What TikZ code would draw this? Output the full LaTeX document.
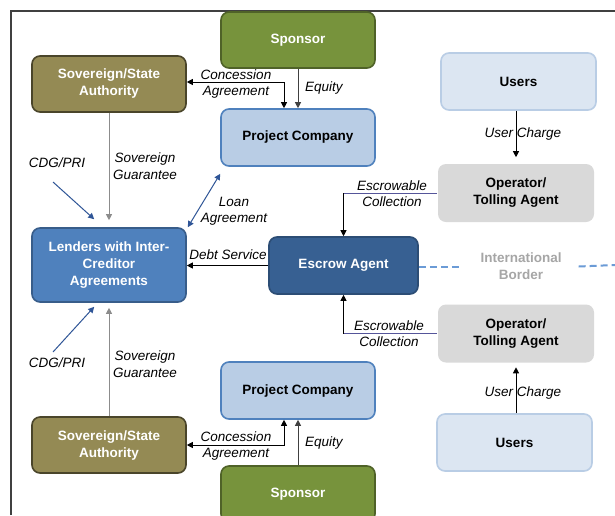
\documentclass[tikz,border=0pt]{standalone}
\usepackage{fontspec}
\setmainfont{Liberation Sans}
\usetikzlibrary{arrows.meta,calc}
\definecolor{sponsorfill}{HTML}{77933C}
\definecolor{sponsordraw}{HTML}{4F6228}
\definecolor{sovfill}{HTML}{948A54}
\definecolor{sovdraw}{HTML}{4A452A}
\definecolor{projfill}{HTML}{B9CDE5}
\definecolor{projdraw}{HTML}{4F81BD}
\definecolor{usersfill}{HTML}{DCE6F2}
\definecolor{usersdraw}{HTML}{B9CDE5}
\definecolor{opfill}{HTML}{D9D9D9}
\definecolor{lendfill}{HTML}{4F81BD}
\definecolor{lenddraw}{HTML}{385D8A}
\definecolor{escfill}{HTML}{376092}
\definecolor{escdraw}{HTML}{2C4D75}
\definecolor{bluearrow}{HTML}{2F5597}
\definecolor{grayarrow}{HTML}{8C8C8C}
\definecolor{bordertext}{HTML}{A6A6A6}
\definecolor{borderline}{HTML}{6B9BD6}
\definecolor{purpleline}{HTML}{55559A}
\definecolor{framecol}{HTML}{404040}
\tikzset{
  box/.style={rounded corners=8pt, minimum width=154pt, minimum height=56pt,
    align=center, font=\fontsize{13.5}{17}\selectfont\bfseries, line width=1.6pt, inner sep=2pt},
  sponsorbox/.style={box, fill=sponsorfill, draw=sponsordraw, text=white},
  sovbox/.style={box, fill=sovfill, draw=sovdraw, text=white},
  projbox/.style={box, fill=projfill, draw=projdraw, text=black, minimum height=57pt},
  usersbox/.style={box, fill=usersfill, draw=usersdraw, text=black, minimum width=155pt, minimum height=57pt},
  opbox/.style={box, fill=opfill, draw=none, text=black, minimum width=156pt, minimum height=58pt},
  lendbox/.style={box, fill=lendfill, draw=lenddraw, text=white, minimum height=74pt},
  escbox/.style={box, fill=escfill, draw=escdraw, text=white, minimum width=149pt, minimum height=57pt},
  lbl/.style={font=\fontsize{13.5}{16.5}\selectfont\itshape, align=center, inner sep=0pt},
  arr/.style={-{Triangle[width=6pt,length=6pt]}, line width=1pt, black},
  darr/.style={{Triangle[width=6pt,length=6pt]}-{Triangle[width=6pt,length=6pt]}, line width=1pt, black},
}
\begin{document}
\begin{tikzpicture}[x=1pt,y=-1pt]
\useasboundingbox (0,0) rectangle (615,515);
\clip (0,0) rectangle (615,515);
\fill[white] (0,0) rectangle (615,515);
\draw[framecol, line width=1.5pt] (11,515) -- (11,11) -- (615,11);

% nodes
\node[sponsorbox] (sponsorT) at (298,40) {Sponsor};
\node[sovbox] (sovT) at (109,84) {Sovereign/State\\Authority};
\node[projbox] (projT) at (298,137.5) {Project Company};
\node[usersbox] (usersT) at (518.5,81.5) {Users};
\node[opbox] (opT) at (516,193) {Operator/\\Tolling Agent};
\node[lendbox] (lenders) at (109,265) {Lenders with Inter-\\Creditor\\Agreements};
\node[escbox] (escrow) at (343.5,265.5) {Escrow Agent};
\node[opbox] (opB) at (516,333.5) {Operator/\\Tolling Agent};
\node[projbox] (projB) at (298,390.5) {Project Company};
\node[usersbox] (usersB) at (514.5,442.5) {Users};
\node[sovbox] (sovB) at (109,445) {Sovereign/State\\Authority};
\node[sponsorbox] (sponsorB) at (298,494) {Sponsor};

% labels
\node[lbl] (concT) at (236,84) {Concession\\Agreement};
\node[lbl, anchor=west] (eqT) at (305,88) {Equity};
\node[lbl, anchor=west] (sgT) at (113,166) {Sovereign\\Guarantee};
\node[lbl] (cdgT) at (57,163) {CDG/PRI};
\node[lbl] (loan) at (234,211) {Loan\\Agreement};
\node[lbl] (debt) at (228,255) {Debt Service};
\node[lbl] (escT) at (392,193.5) {Escrowable\\Collection};
\node[lbl] (ucT) at (523,134) {User Charge};
\node[lbl] (escB) at (389,333.5) {Escrowable\\Collection};
\node[lbl] (ucB) at (523,393) {User Charge};
\node[lbl, anchor=west] (sgB) at (113,364) {Sovereign\\Guarantee};
\node[lbl] (cdgB) at (57,363) {CDG/PRI};
\node[lbl] (concB) at (236,446) {Concession\\Agreement};
\node[lbl, anchor=west] (eqB) at (305,443) {Equity};
\node[font=\fontsize{13.5}{17}\selectfont\bfseries, text=bordertext, align=center, inner sep=0pt] (border) at (521,266.5) {International\\Border};
\coordinate (borderEnd) at (615,265);

% connectors top half
\draw[arr, draw=black!75, -{Triangle[width=6pt,length=6pt]}] (sponsorT) -- (projT);
\draw[darr] ([yshift=2pt]sovT.east) -| ([xshift=-14pt]projT.north);
\draw[arr, draw=grayarrow, -{Triangle[width=6pt,length=6pt,fill=grayarrow]}, shorten >=7pt] (sovT) -- (lenders);
\coordinate (cdgTs) at (53,182);
\draw[arr, draw=bluearrow, -{Triangle[width=6pt,length=6pt,fill=bluearrow]}] (cdgTs) -- ([shift={(63,-8)}]lenders.north west);
\draw[darr, draw=bluearrow, {Triangle[width=6pt,length=6pt,fill=bluearrow]}-{Triangle[width=6pt,length=6pt,fill=bluearrow]}] ([xshift=1pt]lenders.north east) -- ([yshift=-7pt]projT.south west);
\draw[arr] (escrow.west) -- (lenders.east |- escrow.west);
\draw[arr] (usersT.south -| opT.north) -- ([yshift=6pt]opT.north);
\draw[purpleline, line width=1pt] (opT.west) -- (opT.west -| escrow.north);
\draw[arr] (opT.west -| escrow.north) -- (escrow.north);

% connectors bottom half
\draw[arr, draw=black!75] (sponsorB) -- (projB);
\draw[darr] (sovB.east) -| ([xshift=-14pt]projB.south);
\draw[arr, draw=grayarrow, -{Triangle[width=6pt,length=6pt,fill=grayarrow]}, shorten >=5pt] (sovB) -- (lenders);
\coordinate (cdgBs) at (53,352);
\draw[arr, draw=bluearrow, -{Triangle[width=6pt,length=6pt,fill=bluearrow]}] (cdgBs) -- ([shift={(63,4)}]lenders.south west);
\draw[arr] (usersB.north -| opB.south) -- ([yshift=-4pt]opB.south);
\draw[purpleline, line width=1pt] (opB.west) -- (opB.west -| escrow.south);
\draw[arr] (opB.west -| escrow.south) -- (escrow.south);

% international border
\draw[borderline, line width=2pt, dash pattern=on 7pt off 4pt] (escrow.east |- border.center) -- ([xshift=-18pt]border.west);
\draw[borderline, line width=2pt, dash pattern=on 7pt off 4pt] ([xshift=17pt]border.east) -- (borderEnd);
\end{tikzpicture}
\end{document}
